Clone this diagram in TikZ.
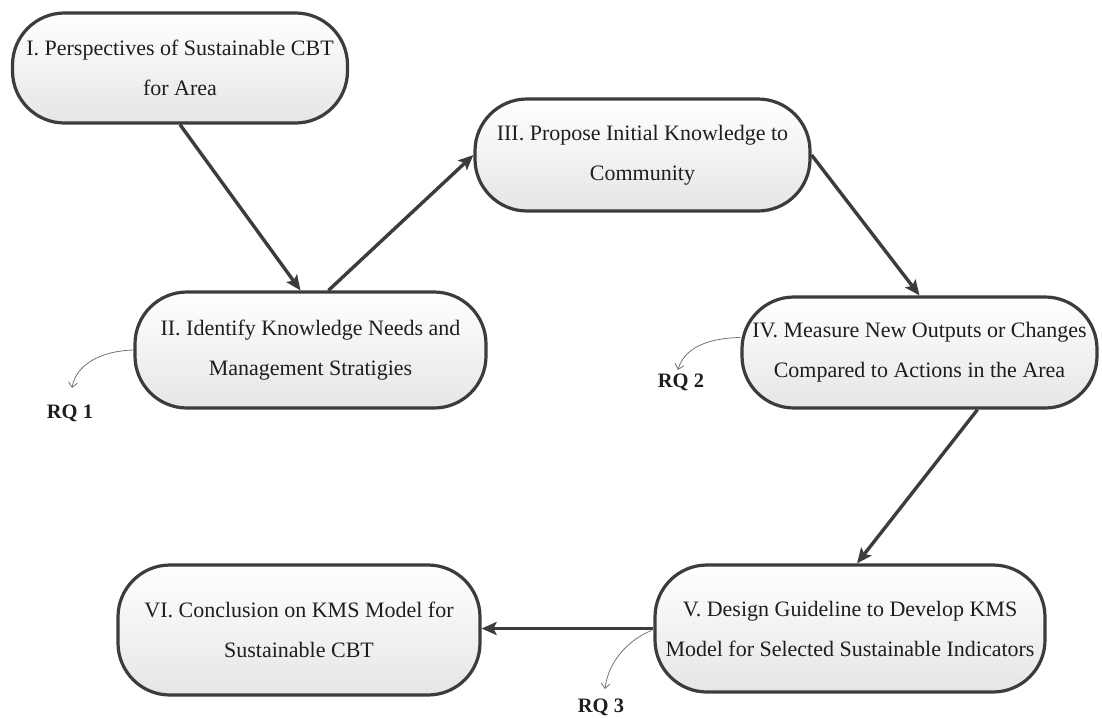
\documentclass[tikz,border=0pt]{standalone}
\usepackage{fontspec}
\setmainfont{Liberation Serif}
\usetikzlibrary{arrows.meta,calc}
\definecolor{edge}{HTML}{3C3C3C}
\definecolor{ink}{HTML}{1E1E1E}
\begin{document}
\begin{tikzpicture}[x=1pt,y=-1pt,
  stage/.style={draw=edge, line width=3.2pt, rounded corners=52pt,
    top color=white, bottom color=black!10, text=ink, align=center,
    font=\fontsize{22}{40}\selectfont, inner sep=0pt},
  flow/.style={draw=edge, line width=3.4pt,
    -{Stealth[length=15pt,width=13pt,inset=3pt]}},
  rqlink/.style={draw=black!55, line width=0.8pt,
    -{Straight Barb[length=5pt,width=9pt]}},
  rqtext/.style={font=\fontsize{20.5}{24}\selectfont\bfseries, text=ink, inner sep=0pt}]
  \useasboundingbox (0,0) rectangle (1102,718);

  % process stages
  \node[stage, minimum width=335pt, minimum height=110pt] (s1) at (180,68)
    {I. Perspectives of Sustainable CBT\\for Area};
  \node[stage, minimum width=351pt, minimum height=116pt] (s2) at (310.5,350)
    {II. Identify Knowledge Needs and\\Management Stratigies};
  \node[stage, minimum width=335pt, minimum height=112pt] (s3) at (642.5,155)
    {III. Propose Initial Knowledge to\\Community};
  \node[stage, minimum width=355pt, minimum height=111pt] (s4) at (919.5,352.5)
    {IV. Measure New Outputs or Changes\\Compared to Actions in the Area};
  \node[stage, minimum width=390pt, minimum height=127pt] (s5) at (850,628.5)
    {V. Design Guideline to Develop KMS\\Model for Selected Sustainable Indicators};
  \node[stage, minimum width=362pt, minimum height=130pt] (s6) at (299,630)
    {VI. Conclusion on KMS Model for\\Sustainable CBT};

  % main flow
  \draw[flow] (s1.south) -- ($(s2.north)+(-10,0)$);
  \draw[flow] ($(s2.north)+(18,0)$) -- (s3.west);
  \draw[flow] (s3.east) -- (s4.north);
  \draw[flow] ($(s4.south)+(58,0)$) -- ($(s5.north)+(7,0)$);
  \draw[flow] (s5.west) -- (s5.west -| s6.east);

  % research questions
  \node[rqtext] (rq1) at (70,413) {RQ 1};
  \node[rqtext] (rq2) at (681,382) {RQ 2};
  \node[rqtext] (rq3) at (601,707) {RQ 3};
  \coordinate (t1) at (72,388);
  \coordinate (t2) at (678,370);
  \coordinate (t3) at (605,689);
  \draw[rqlink] (s2.west) .. controls (100,351) and (76,365) .. (t1);
  \draw[rqlink] ($(s4.west)+(0,-15)$) .. controls (708,338) and (684,348) .. (t2);
  \draw[rqlink] ($(s5.west)+(-2,2)$) .. controls (628,640) and (608,662) .. (t3);
\end{tikzpicture}
\end{document}
